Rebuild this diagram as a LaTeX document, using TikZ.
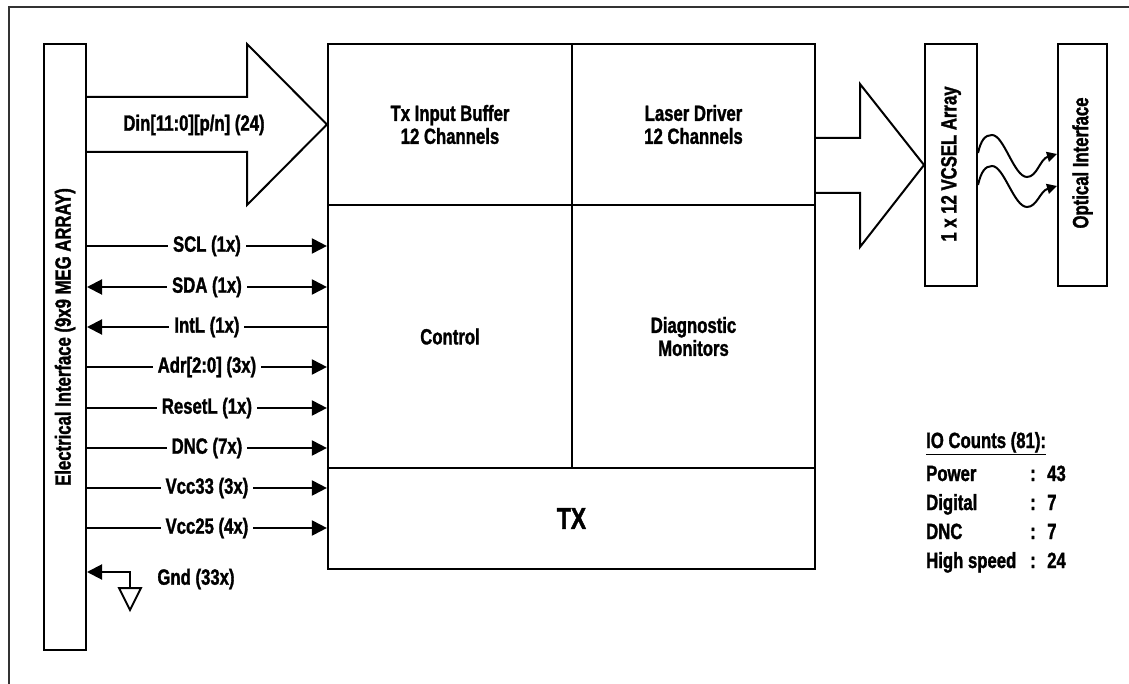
\documentclass[tikz,border=0pt]{standalone}
\usepackage{fontspec}
\setmainfont{Liberation Sans}[FakeStretch=0.76, FakeBold=1.4]
\usetikzlibrary{arrows.meta,calc}
\begin{document}
\begin{tikzpicture}[x=1pt,y=-1pt,
  lbl/.style={font=\fontsize{22}{23}\selectfont\bfseries},
  cell/.style={draw, line width=2.2pt, inner sep=0pt, lbl, align=center},
  vbox/.style={draw, line width=2pt, inner sep=0pt},
  vtext/.style={lbl, rotate=90, inner sep=0pt},
  sig/.style={line width=2pt},
  sl/.style={fill=white, inner xsep=5pt, inner ysep=1pt, lbl},
  tip/.style={-{Triangle[length=15pt,width=15pt]}},
  btip/.style={{Triangle[length=15pt,width=15pt]}-{Triangle[length=15pt,width=15pt]}},
  stip/.style={-{Triangle[length=10pt,width=10pt]}},
  bigarrow/.style={line width=2pt, line join=miter},
  frame/.style={black!80, line width=2pt},
  io/.style={lbl, anchor=base west, inner sep=0pt}
]
\useasboundingbox (0,0) rectangle (1129,684);
\draw[frame] (9,684) -- (9,7) -- (1129,7);

% boxes
\node[vbox, minimum width=42pt, minimum height=606pt] (elec) at (65,347) {};
\node[vtext] (elect) at (65,337) {Electrical Interface (9x9 MEG ARRAY)};
\node[vbox, minimum width=52pt, minimum height=242pt] (vcsel) at (951,165) {};
\node[vtext] (vcselt) at (951,164) {1 x 12 VCSEL Array};
\node[vbox, minimum width=49pt, minimum height=242pt] (optic) at (1082.5,165) {};
\node[vtext] (optict) at (1082.5,163) {Optical Interface};

\node[cell, minimum width=244pt, minimum height=161pt] (txbuf) at (450,124.5) {Tx Input Buffer\\12 Channels};
\node[cell, minimum width=243pt, minimum height=161pt] (laser) at (693.5,124.5) {Laser Driver\\12 Channels};
\node[cell, minimum width=244pt, minimum height=263pt] (control) at (450,336.5) {Control};
\node[cell, minimum width=243pt, minimum height=263pt] (diag) at (693.5,336.5) {Diagnostic\\Monitors};
\node[cell, minimum width=487pt, minimum height=101pt, font=\fontsize{30}{32}\selectfont\bfseries] (tx) at (571.5,518.5) {TX};

% big arrows
\draw[bigarrow] (elec.east |- 0,97) -- (247,97) -- (247,44) -- (txbuf.west) -- (247,205) -- (247,152) -- (elec.east |- 0,152);
\node[lbl] (din) at (194,125) {Din[11:0][p/n] (24)};
\draw[bigarrow] (laser.east |- 0,138) -- (860,138) -- (860,84) -- (vcsel.west) -- (860,247) -- (860,193) -- (laser.east |- 0,193);

% signals
\draw[sig,tip] (elec.east |- 0,246) -- (control.west |- 0,246) node[midway,sl] (scl) {SCL (1x)};
\draw[sig,btip] (elec.east |- 0,287) -- (control.west |- 0,287) node[midway,sl] (sda) {SDA (1x)};
\draw[sig,tip] (control.west |- 0,327) -- (elec.east |- 0,327) node[midway,sl] (intl) {IntL (1x)};
\draw[sig,tip] (elec.east |- 0,367) -- (control.west |- 0,367) node[midway,sl] (adr) {Adr[2:0] (3x)};
\draw[sig,tip] (elec.east |- 0,408) -- (control.west |- 0,408) node[midway,sl] (rst) {ResetL (1x)};
\draw[sig,tip] (elec.east |- 0,448) -- (control.west |- 0,448) node[midway,sl] (dnc) {DNC (7x)};
\draw[sig,tip] (elec.east |- 0,488) -- (tx.west |- 0,488) node[midway,sl] (v33) {Vcc33 (3x)};
\draw[sig,tip] (elec.east |- 0,528) -- (tx.west |- 0,528) node[midway,sl] (v25) {Vcc25 (4x)};

% ground
\coordinate (gnd) at (130,588);
\draw[sig,tip] (gnd) |- (elec.east |- 0,572);
\draw[sig, line join=miter] (119,588) -- (141,588) -- (130,610) -- cycle;
\node[lbl] (gndl) at (196,579) {Gnd (33x)};

% optical waves
\draw[sig,stip] (vcsel.east |- 0,153) .. controls (981,140) and (985,135) .. (992,135)
  .. controls (1004,135) and (1014,177) .. (1027,177)
  .. controls (1037,177) and (1040,159) .. (optic.west |- 0,154);
\draw[sig,stip] (vcsel.east |- 0,185) .. controls (981,172) and (985,166) .. (992,166)
  .. controls (1004,166) and (1014,207) .. (1027,207)
  .. controls (1037,207) and (1040,191) .. (optic.west |- 0,186);

% IO counts
\node[io] (ioh) at (926,448) {\underline{IO Counts (81):}};
\node[io] (pw) at (926,481) {Power};
\node[io] (pwc) at (1030,481) {:};
\node[io] (pwn) at (1047,481) {43};
\node[io] (dg) at (926,510) {Digital};
\node[io] (dgc) at (1030,510) {:};
\node[io] (dgn) at (1047,510) {7};
\node[io] (dn) at (926,539) {DNC};
\node[io] (dnc2) at (1030,539) {:};
\node[io] (dnn) at (1047,539) {7};
\node[io] (hs) at (926,568) {High speed};
\node[io] (hsc) at (1030,568) {:};
\node[io] (hsn) at (1047,568) {24};
\end{tikzpicture}
\end{document}
